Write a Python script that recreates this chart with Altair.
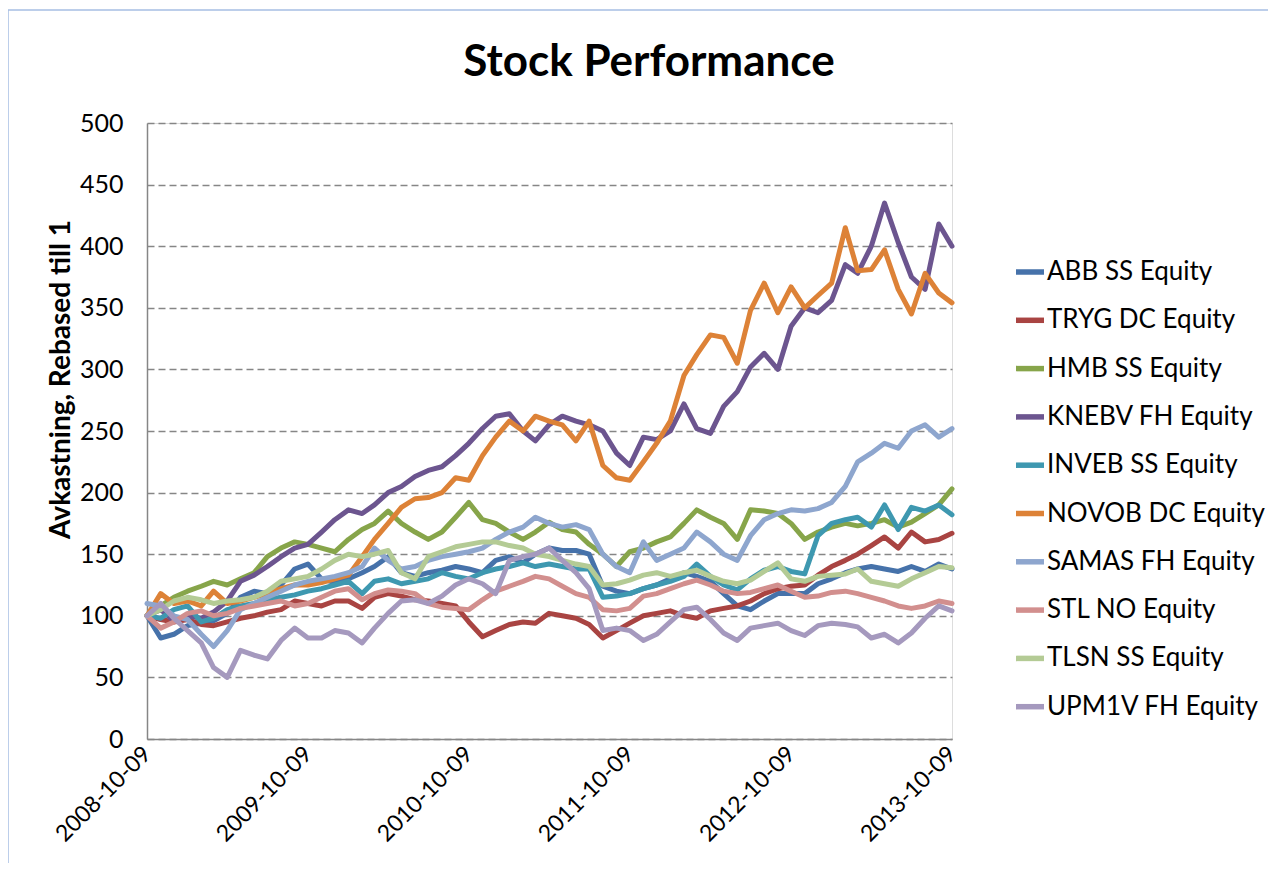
import altair as alt
import pandas as pd

# ---------------- data (monthly from 2008-10-09) ----------------
start_date = "2008-10-09"
n_points = 61

chart_title = ["Stock Performance"]
series_names = [
    "ABB SS Equity", "TRYG DC Equity", "HMB SS Equity", "KNEBV FH Equity",
    "INVEB SS Equity", "NOVOB DC Equity", "SAMAS FH Equity", "STL NO Equity",
    "TLSN SS Equity", "UPM1V FH Equity",
]
series_colors = [
    "#4672AA", "#A94442", "#87A54A", "#6C558F", "#3E98B0",
    "#DD8237", "#8EA6CE", "#D28F8E", "#B4CB95", "#A599BE",
]

abb = [100, 82, 85, 92, 94, 96, 102, 115, 120, 118, 125, 138, 142, 130, 127, 130, 135, 140, 148, 135,
       132, 135, 137, 140, 138, 135, 145, 148, 143, 150, 155, 153, 153, 150, 124, 120, 118, 122, 125, 130,
       135, 132, 128, 118, 108, 105, 112, 118, 118, 118, 126, 130, 135, 138, 140, 138, 136, 140, 136, 142, 138]
tryg = [100, 97, 95, 97, 93, 92, 95, 98, 100, 103, 105, 112, 110, 108, 112, 112, 106, 115, 118, 116,
        113, 112, 110, 108, 95, 83, 88, 93, 95, 94, 102, 100, 98, 93, 82, 88, 94, 100, 102, 104,
        100, 98, 104, 106, 108, 112, 118, 122, 124, 125, 133, 140, 145, 150, 157, 164, 155, 168, 160, 162, 167]
hmb = [100, 108, 115, 120, 124, 128, 125, 130, 135, 148, 155, 160, 158, 155, 152, 162, 170, 175, 185, 175,
       168, 162, 168, 180, 192, 178, 175, 168, 162, 168, 176, 170, 168, 158, 150, 140, 152, 155, 160, 164,
       175, 186, 180, 175, 162, 186, 185, 183, 175, 162, 168, 172, 175, 173, 175, 178, 172, 176, 183, 190, 203]
knebv = [100, 105, 96, 100, 98, 103, 112, 128, 133, 140, 148, 155, 158, 168, 178, 186, 183, 190, 200, 205,
         213, 218, 221, 230, 240, 252, 262, 264, 250, 242, 255, 262, 258, 255, 250, 232, 222, 245, 243, 250,
         272, 252, 248, 270, 282, 302, 313, 300, 335, 350, 346, 356, 385, 378, 400, 435, 403, 375, 365, 418, 400]
inveb = [100, 98, 105, 108, 95, 98, 105, 108, 110, 113, 115, 117, 120, 122, 125, 128, 118, 128, 130, 126,
         128, 130, 135, 132, 130, 135, 138, 140, 143, 140, 142, 140, 138, 138, 115, 116, 118, 122, 125, 128,
         132, 142, 132, 125, 121, 130, 137, 140, 136, 134, 165, 175, 178, 180, 172, 190, 170, 188, 185, 190, 182]
novob = [100, 118, 110, 112, 108, 120, 110, 112, 115, 118, 122, 125, 125, 127, 130, 133, 148, 162, 175, 188,
         195, 196, 200, 212, 210, 230, 245, 258, 250, 262, 258, 255, 242, 258, 222, 212, 210, 225, 240, 258,
         295, 312, 328, 326, 305, 348, 370, 346, 367, 350, 360, 370, 415, 380, 381, 397, 365, 345, 378, 362, 354]
samas = [110, 108, 100, 97, 85, 75, 88, 105, 110, 115, 120, 125, 128, 130, 132, 135, 140, 155, 145, 138,
         140, 145, 148, 150, 152, 155, 162, 168, 172, 180, 175, 172, 174, 170, 150, 140, 135, 160, 145, 150,
         155, 168, 160, 150, 145, 165, 178, 183, 186, 185, 187, 192, 205, 225, 232, 240, 236, 250, 255, 245, 252]
stl = [100, 90, 95, 102, 104, 100, 102, 106, 108, 110, 112, 108, 110, 115, 120, 122, 113, 118, 121, 120,
       118, 110, 107, 106, 105, 113, 120, 124, 128, 132, 130, 124, 118, 115, 105, 104, 106, 116, 118, 122,
       126, 129, 125, 120, 118, 119, 122, 125, 120, 115, 116, 119, 120, 118, 115, 112, 108, 106, 108, 112, 110]
tlsn = [100, 105, 112, 115, 113, 110, 112, 113, 115, 120, 128, 130, 132, 138, 145, 150, 148, 150, 153, 135,
        130, 148, 152, 156, 158, 160, 160, 157, 155, 150, 148, 145, 142, 140, 125, 126, 129, 133, 135, 132,
        135, 137, 132, 128, 126, 129, 136, 143, 130, 128, 132, 133, 134, 138, 128, 126, 124, 130, 135, 140, 139]
upm1v = [100, 110, 98, 88, 78, 58, 50, 72, 68, 65, 80, 90, 82, 82, 88, 86, 78, 90, 102, 112,
         113, 110, 116, 125, 130, 126, 118, 145, 148, 150, 155, 145, 135, 122, 88, 90, 88, 80, 85, 95,
         105, 107, 97, 86, 80, 90, 92, 94, 88, 84, 92, 94, 93, 91, 82, 85, 78, 86, 98, 108, 104]

series_values = [abb, tryg, hmb, knebv, inveb, novob, samas, stl, tlsn, upm1v]

y_ticks = [0, 50, 100, 150, 200, 250, 300, 350, 400, 450, 500]
x_tick_dates = ["2008-10-09", "2009-10-09", "2010-10-09", "2011-10-09", "2012-10-09", "2013-10-09"]

# ---------------- build table ----------------
dates = pd.date_range(start_date, periods=n_points, freq=pd.DateOffset(months=1)).strftime("%Y-%m-%d")
rows = []
for name, vals in zip(series_names, series_values):
    for d, v in zip(dates, vals):
        rows.append({"date": d, "value": v, "series": name})
df = pd.DataFrame(rows)


def ms(s):
    return int(pd.Timestamp(s, tz="UTC").value // 10**6)


x_tick_ms = [ms(s) for s in x_tick_dates]

FONT = "Lato"

lines = alt.Chart(df).mark_line(strokeWidth=5, strokeJoin="round", strokeCap="round").encode(
    x=alt.X(
        "date:T",
        scale=alt.Scale(type="utc", domain=[x_tick_ms[0], x_tick_ms[-1]], nice=False),
        axis=alt.Axis(
            title=None, values=x_tick_ms, format="%Y-%m-%d", labelAngle=-45,
            labelAlign="right", labelBaseline="middle", labelPadding=11,
            grid=False, ticks=False, domainColor="#868686", domainWidth=1.5,
            labelFont=FONT, labelFontSize=23, labelColor="#000000",
        ),
    ),
    y=alt.Y(
        "value:Q",
        scale=alt.Scale(domain=[0, 500], nice=False),
        axis=alt.Axis(
            title="Avkastning, Rebased till 1", values=y_ticks, ticks=False,
            labelPadding=24, labelFont=FONT, labelFontSize=25, labelColor="#000000",
            titleFont=FONT, titleFontSize=28, titleFontWeight="bold", titleColor="#000000",
            titleX=-86, titleY=256, titleAlign="center", titleBaseline="middle", titleAngle=270,
            grid=True, gridColor="#868686", gridDash=[7, 4], gridWidth=1.5,
            domainColor="#868686", domainWidth=1.5,
        ),
    ),
    color=alt.Color(
        "series:N",
        scale=alt.Scale(domain=series_names, range=series_colors),
        legend=alt.Legend(
            title=None, orient="none", legendX=866, legendY=132,
            symbolType="stroke", symbolStrokeWidth=5.5, symbolSize=784,
            labelFont=FONT, labelFontSize=26, labelColor="#000000", labelOffset=0,
            rowPadding=18.3, labelLimit=400,
        ),
    ),
    order=alt.Order("date:T"),
)

title_text = alt.Chart(pd.DataFrame({"t": chart_title})).mark_text(
    font=FONT, fontSize=44, fontWeight="bold", color="#000000",
    align="center", baseline="middle",
).encode(text="t:N", x=alt.value(502), y=alt.value(-60))

border = alt.Chart(pd.DataFrame({"a": [0]})).mark_rect(
    fillOpacity=0, stroke="#A7BFE4", strokeWidth=1.5
).encode(
    x=alt.value(-139), x2=alt.value(1400), y=alt.value(-113), y2=alt.value(1000)
)

chart = alt.layer(border, title_text, lines).properties(
    width=805,
    height=616,
    autosize=alt.AutoSizeParams(type="none"),
    padding={"left": 139, "top": 115, "right": 316, "bottom": 124},
).configure_view(stroke=None).configure(background="white")

chart.save("out.html", embed_options={"renderer": "svg", "actions": False})
